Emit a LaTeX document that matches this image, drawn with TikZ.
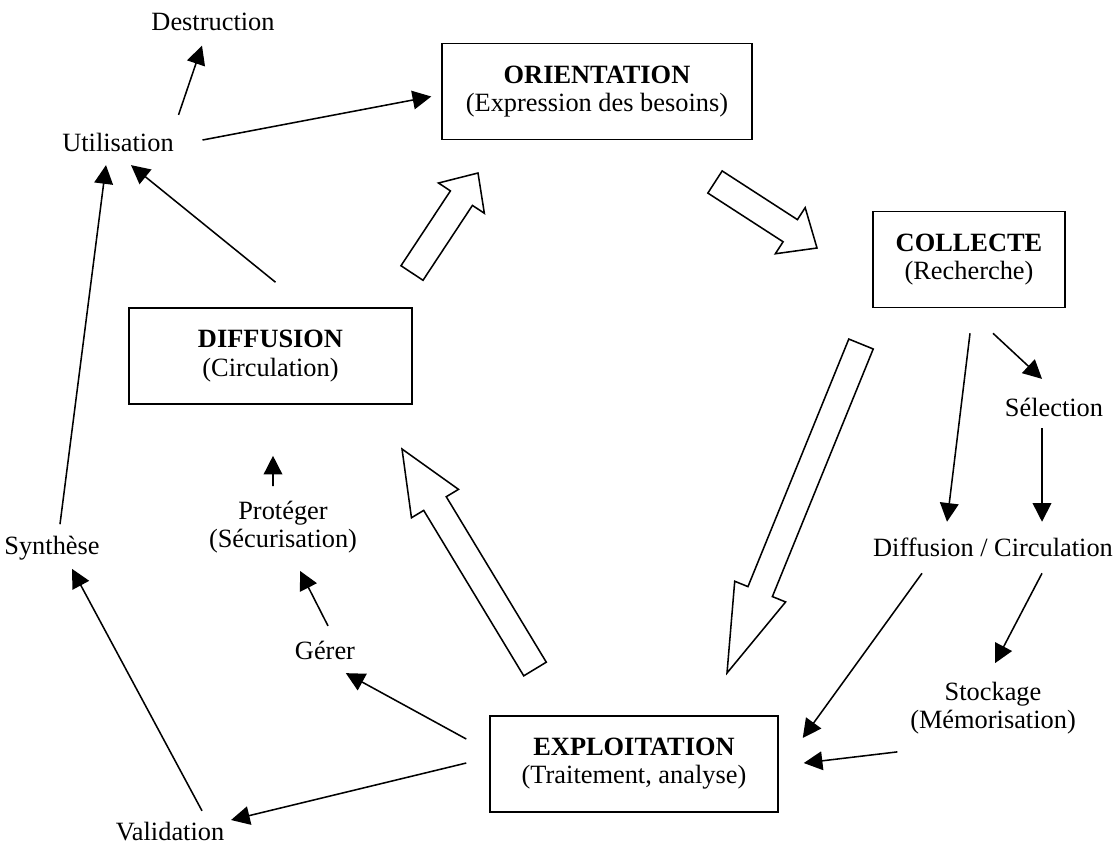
\documentclass[tikz,border=0pt]{standalone}
\usepackage{fontspec}
\setmainfont{Liberation Serif}
\usetikzlibrary{arrows.meta,calc}
\tikzset{%
	>={Triangle[length=8.5pt,width=8.5pt]},
	% Styles for the stage boxes, the small labels and the arrows
	base/.style = {rectangle, draw=black, line width=0.7pt,
		align=center, font=\fontsize{12pt}{12.8pt}\selectfont},
	stage/.style = {base, minimum height=43.7pt},
	txt/.style = {align=center, inner sep=2pt,
		font=\fontsize{12pt}{12.8pt}\selectfont},
	link/.style = {->, line width=0.7pt}
}
% hollow block arrow: tail, tip, head length
\newcommand{\bigarrow}[3]{%
	\coordinate (hb) at ($(#2)!#3!(#1)$);
	\draw[line width=0.7pt, fill=white]
		($(#1)!6pt!90:(#2)$) -- ($(hb)!6pt!90:(#2)$) -- ($(hb)!12.5pt!90:(#2)$) -- (#2)
		-- ($(hb)!12.5pt!-90:(#2)$) -- ($(hb)!6pt!-90:(#2)$) -- ($(#1)!6pt!-90:(#2)$) -- cycle;
}

\begin{document}
\begin{tikzpicture}[x=0.455pt, y=-0.455pt]
	\useasboundingbox (0,0) rectangle (1116,847);
	% Stages of the cycle
	\node (orient)    [stage, minimum width=141pt]  at (597,91.5)  {\textbf{ORIENTATION}\\(Expression des besoins)};
	\node (collecte)  [stage, minimum width=87.4pt] at (969,259.5) {\textbf{COLLECTE}\\(Recherche)};
	\node (diffusion) [stage, minimum width=128.8pt] at (270.5,356) {\textbf{DIFFUSION}\\(Circulation)};
	\node (exploit)   [stage, minimum width=131pt]  at (634,764)   {\textbf{EXPLOITATION}\\(Traitement, analyse)};
	% Small steps
	\node (destr)    [txt] at (213,22)   {Destruction};
	\node (util)     [txt] at (118,142)  {Utilisation};
	\node (synth)    [txt] at (52,548)   {Synthèse};
	\node (valid)    [txt] at (170,832)  {Validation};
	\node (gerer)    [txt] at (325,650)  {Gérer};
	\node (proteg)   [txt] at (283,527)  {Protéger\\(Sécurisation)};
	\node (select)   [txt] at (1054,407) {Sélection};
	\node (diffcirc) [txt] at (993,547)  {Diffusion / Circulation};
	\node (stock)    [txt] at (993,708)  {Stockage\\(Mémorisation)};

	% Big arrows of the cycle
	\coordinate (h1a) at (412,273); \coordinate (h1b) at (478,173);
	\coordinate (h2a) at (715,182); \coordinate (h2b) at (817,248);
	\coordinate (h3a) at (861,344); \coordinate (h3b) at (727,673);
	\coordinate (h4a) at (535,669); \coordinate (h4b) at (402,449);
	\bigarrow{h1a}{h1b}{13.7pt}
	\bigarrow{h2a}{h2b}{14.5pt}
	\bigarrow{h3a}{h3b}{40pt}
	\bigarrow{h4a}{h4b}{29pt}

	% Thin arrows
	\draw[link] ([shift={(0,-13)}]util.north east) -- ([shift={(-11,10)}]destr.south);
	\draw[link] ([shift={(24,-2)}]util.east) -- ([shift={(-10,5)}]orient.west);
	\draw[link] ([shift={(5,-25)}]diffusion.north) -- ([shift={(13,9)}]util.south);
	\draw[link] ([shift={(8,-7)}]synth.north) -- ([shift={(-12,9)}]util.south);
	\draw[link] ([shift={(32,-7)}]valid.north) -- ([shift={(20,4)}]synth.south);
	\draw[link] ([shift={(-23,-1)}]exploit.west) -- ([shift={(2,-12)}]valid.east);
	\draw[link] ([shift={(-23,-25)}]exploit.west) -- ([shift={(-14,9)}]gerer.south east);
	\draw[link] ([shift={(3,-10)}]gerer.north) -- ([shift={(17,13)}]proteg.south);
	\draw[link] ([shift={(-10,-10)}]proteg.north) -- ([shift={(2.5,51)}]diffusion.south);
	\draw[link] ([shift={(1,25)}]collecte.south) -- ([shift={(-46,-11)}]diffcirc.north);
	\draw[link] ([shift={(24,25)}]collecte.south) -- ([shift={(-12,-14)}]select.north);
	\draw[link] ([shift={(-12,7)}]select.south) -- ([shift={(49,-11)}]diffcirc.north);
	\draw[link] ([shift={(-71,12)}]diffcirc.south) -- ([shift={(24,-26)}]exploit.east);
	\draw[link] ([shift={(49,12)}]diffcirc.south) -- ([shift={(2,-14)}]stock.north);
	\draw[link] ([shift={(-8,13)}]stock.south west) -- ([shift={(25,-1)}]exploit.east);
\end{tikzpicture}
\end{document}
